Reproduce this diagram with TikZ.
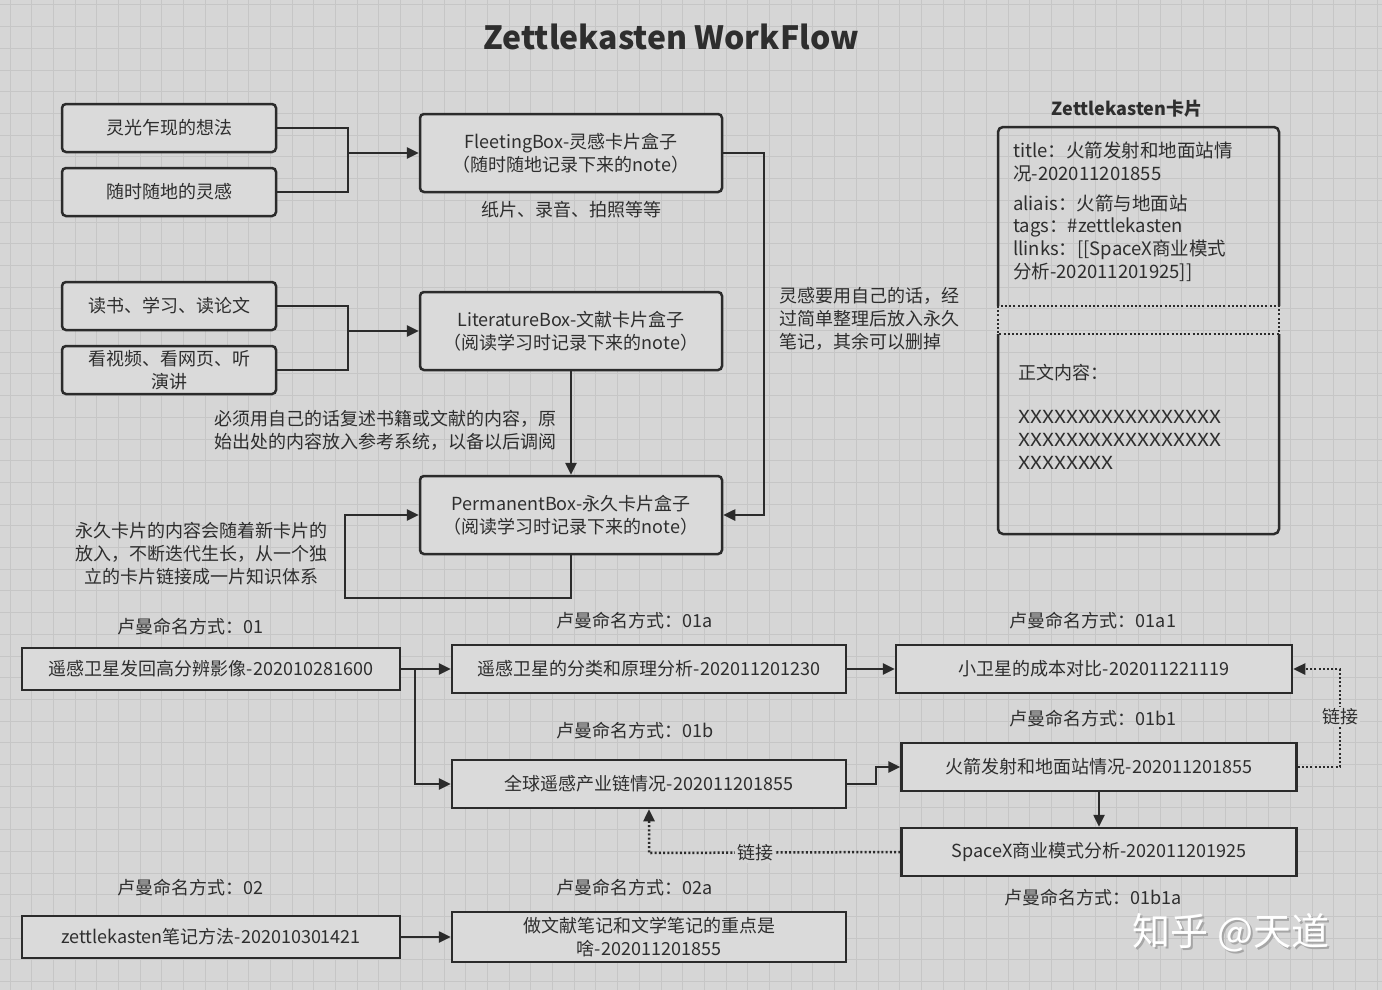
\documentclass[tikz,border=0pt]{standalone}
\usepackage{fontspec}
\setmainfont{Noto Sans CJK SC}
\usetikzlibrary{arrows.meta}
\definecolor{bgc}{HTML}{D6D6D6}
\definecolor{gridc}{HTML}{C6C6C6}
\definecolor{boxfill}{HTML}{DADADA}
\definecolor{linec}{HTML}{2B2B2B}
\definecolor{txtc}{HTML}{2E2E2E}
\tikzset{
  txt/.style={font=\fontsize{18}{23}\selectfont, text=txtc, inner sep=0pt},
  rbox/.style={txt, draw=linec, line width=2.5pt, fill=boxfill, rounded corners=4pt, align=center},
  sbox/.style={txt, draw=linec, line width=2.5pt, fill=boxfill, align=center},
  conn/.style={draw=linec, line width=2.5pt},
  arr/.style={conn, -{Triangle[length=12pt,width=11pt]}},
  darr/.style={draw=linec, line width=2.5pt, dash pattern=on 2pt off 2.2pt, -{Triangle[length=12pt,width=11pt]}},
  gline/.style={draw=gridc, line width=1pt},
  lbl/.style={txt, fill=bgc, inner sep=2pt},
}
\begin{document}
\begin{tikzpicture}[x=1pt,y=-1pt]
\useasboundingbox (0,0) rectangle (1382,990);
\fill[bgc] (0,0) rectangle (1382,990);
\foreach \i in {0,...,64} \draw[gline] ({10+\i*21.7},0) -- ({10+\i*21.7},990);
\foreach \i in {0,...,46} \draw[gline] (0,{5+\i*21.7}) -- (1382,{5+\i*21.7});

% title
\node[txt, font=\fontsize{32}{38}\selectfont\bfseries] (title) at (671,37) {Zettlekasten WorkFlow};

% left inputs
\node[rbox, minimum width=214, minimum height=48] (a) at (169,128) {灵光乍现的想法};
\node[rbox, minimum width=214, minimum height=48] (b) at (169,192) {随时随地的灵感};
\node[rbox, minimum width=214, minimum height=48] (c) at (169,306) {读书、学习、读论文};
\node[rbox, minimum width=214, minimum height=48] (d) at (169,370) {看视频、看网页、听\\演讲};

% boxes
\node[rbox, minimum width=302, minimum height=78] (fleet) at (571,153) {FleetingBox-灵感卡片盒子\\（随时随地记录下来的note）};
\node[rbox, minimum width=302, minimum height=78] (lit) at (571,331) {LiteratureBox-文献卡片盒子\\（阅读学习时记录下来的note）};
\node[rbox, minimum width=302, minimum height=78] (perm) at (571,515) {PermanentBox-永久卡片盒子\\（阅读学习时记录下来的note）};

\node[txt] (lf) at (571,210) {纸片、录音、拍照等等};
\node[txt, align=left, anchor=east] (llit) at (557,430) {必须用自己的话复述书籍或文献的内容，原\\始出处的内容放入参考系统，以备以后调阅};
\node[txt, align=center] (lperm) at (201,554) {永久卡片的内容会随着新卡片的\\放入，不断迭代生长，从一个独\\立的卡片链接成一片知识体系};
\node[txt, align=left, anchor=west] (lfr) at (779,319) {灵感要用自己的话，经\\过简单整理后放入永久\\笔记，其余可以删掉};

% connectors top
\coordinate (j1) at (348,153);
\draw[conn] (a.east) -| (j1);
\draw[conn] (b.east) -| (j1);
\draw[arr] (j1) -- (fleet.west);
\coordinate (j2) at (348,331);
\draw[conn] (c.east) -| (j2);
\draw[conn] (d.east) -| (j2);
\draw[arr] (j2) -- (lit.west);
\draw[arr] (lit.south) -- (perm.north);
\coordinate (fr) at (764,153);
\draw[arr] (fleet.east) -- (fr) |- (perm.east);
\coordinate (lp) at (345,598);
\draw[arr] (perm.south) |- (lp) |- (perm.west);

% card
\node[txt, font=\fontsize{18}{23}\selectfont\bfseries] (ctitle) at (1127,109) {Zettlekasten卡片};
\coordinate (c1) at (998,306);
\coordinate (c2) at (1279,334);
\draw[conn, rounded corners=5pt] (998,306) -- (998,127) -- (1279,127) -- (1279,306);
\draw[conn, rounded corners=5pt] (998,334) -- (998,534) -- (1279,534) -- (1279,334);
\draw[draw=linec, line width=2.5pt, dash pattern=on 2pt off 2.2pt] (c1) rectangle (c2);
\node[txt, align=left, anchor=west, font=\fontsize{18.5}{22.5}\selectfont] (ct1) at (1013,162) {title：火箭发射和地面站情\\况-202011201855};
\node[txt, align=left, anchor=west, font=\fontsize{18.5}{22.7}\selectfont] (ct2) at (1013,238) {aliais：火箭与地面站\\tags：\#zettlekasten\\llinks：[[SpaceX商业模式\\分析-202011201925]]};
\node[txt, anchor=west] (ct3) at (1018,373) {正文内容：};
\node[txt, align=left, anchor=west] (ct4) at (1018,440) {\scalebox{1.16}[1]{XXXXXXXXXXXXXXXXX}\\\scalebox{1.16}[1]{XXXXXXXXXXXXXXXXX}\\\scalebox{1.16}[1]{XXXXXXXX}};

% bottom: Luhmann numbering
\node[txt] (l01) at (190,627) {卢曼命名方式：01};
\node[sbox, minimum width=378, minimum height=42] (n01) at (211,669) {遥感卫星发回高分辨影像-202010281600};
\node[txt] (l01a) at (635,621) {卢曼命名方式：01a};
\node[sbox, minimum width=394, minimum height=48] (n01a) at (649,669) {遥感卫星的分类和原理分析-202011201230};
\node[txt] (l01a1) at (1093,621) {卢曼命名方式：01a1};
\node[sbox, minimum width=396, minimum height=48] (n01a1) at (1094,669) {小卫星的成本对比-202011221119};
\node[txt] (l01b) at (635,731) {卢曼命名方式：01b};
\node[sbox, minimum width=394, minimum height=48] (n01b) at (649,784) {全球遥感产业链情况-202011201855};
\node[txt] (l01b1) at (1093,719) {卢曼命名方式：01b1};
\node[sbox, minimum width=395, minimum height=48] (n01b1) at (1099,767) {火箭发射和地面站情况-202011201855};
\node[sbox, minimum width=395, minimum height=48] (spx) at (1099,852) {SpaceX商业模式分析-202011201925};
\node[txt] (l01b1a) at (1093,898) {卢曼命名方式：01b1a};
\node[txt] (l02) at (190,888) {卢曼命名方式：02};
\node[sbox, minimum width=378, minimum height=42] (n02) at (211,937) {zettlekasten笔记方法-202010301421};
\node[txt] (l02a) at (635,888) {卢曼命名方式：02a};
\node[sbox, minimum width=394, minimum height=50] (n02a) at (649,937) {做文献笔记和文学笔记的重点是\\啥-202011201855};

\draw[arr] (n01.east) -- (n01a.west);
\coordinate (j3) at (415,669);
\draw[arr] (j3) |- (n01b.west);
\draw[arr] (n01a.east) -- (n01a1.west);
\coordinate (j4) at (876,784);
\draw[arr] (n01b.east) -- (j4) |- (n01b1.west);
\draw[arr] (n01b1.south) -- (spx.north);
\draw[arr] (n02.east) -- (n02a.west);

\coordinate (d1) at (1340,767);
\draw[darr] (n01b1.east) -- (d1) |- (n01a1.east);
\node[lbl] (k1) at (1340,717) {链接};
\coordinate (d2) at (649,853);
\draw[darr] (spx.west) -- (d2) -- (n01b.south);
\node[lbl] (k2) at (755,853) {链接};

% watermark
\node[txt, font=\fontsize{38}{42}\selectfont, text=gray!70] at (1233,935) {知乎 @天道};
\node[txt, font=\fontsize{38}{42}\selectfont, text=white] (wm) at (1231,933) {知乎 @天道};
\end{tikzpicture}
\end{document}
